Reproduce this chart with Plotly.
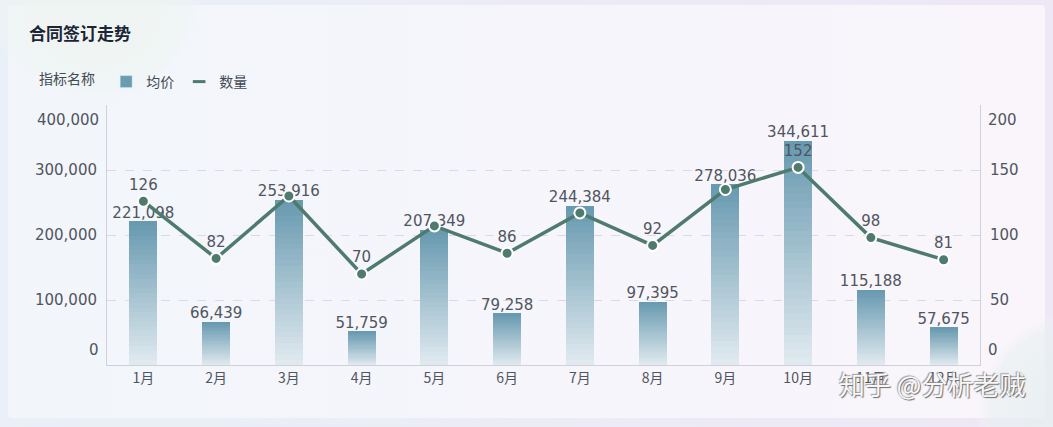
import base64
import plotly.graph_objects as go

months = ["1月", "2月", "3月", "4月", "5月", "6月", "7月", "8月", "9月", "10月", "11月", "12月"]
avg_price = [221098, 66439, 253916, 51759, 207349, 79258, 244384, 97395, 278036, 344611, 115188, 57675]
quantity = [126, 82, 130, 70, 107, 86, 117, 92, 135, 152, 98, 81]
# labels of the line that the reference leaves hidden (overlapping bar labels)
quantity_label_shown = [True, True, False, True, False, True, False, True, False, True, True, True]
left_ticks = [0, 100000, 200000, 300000, 400000]
right_ticks = [0, 50, 100, 150, 200]

W, H = 1053, 427
L, R, T, B = 107, 980, 105, 365
PW, PH = R - L, B - T
FONT = "Noto Sans CJK SC, Noto Sans, sans-serif"
NUMFONT = "DejaVu Sans, Noto Sans CJK SC, sans-serif"
TXT = "#50555e"


def px(x):
    return (x - L) / PW


def py(y):
    return (B - y) / PH


def lerp(c1, c2, t):
    return "#%02x%02x%02x" % tuple(round(a + (b - a) * t) for a, b in zip(c1, c2))


TOP = (0x68, 0x9a, 0xb0)
BOT = (0xdf, 0xe9, 0xef)
N = 30

fig = go.Figure()

# gradient bars as stacked slices (bottom slice lightest)
for i in range(N):
    t = i / (N - 1)
    fig.add_trace(go.Bar(
        x=months, y=[v / N for v in avg_price],
        marker=dict(color=lerp(BOT, TOP, t), line=dict(width=0)),
        width=0.385, showlegend=False, hoverinfo="skip", yaxis="y",
    ))

# bar value labels
fig.add_trace(go.Scatter(
    x=months, y=avg_price, mode="text", text=[f"{v:,}" for v in avg_price],
    textposition="top center", textfont=dict(size=15, color=TXT, family=NUMFONT),
    showlegend=False, hoverinfo="skip", cliponaxis=False, yaxis="y",
))

# line
fig.add_trace(go.Scatter(
    x=months, y=quantity, mode="lines+markers+text", yaxis="y2",
    text=[str(v) if s else "" for v, s in zip(quantity, quantity_label_shown)],
    textposition="top center",
    textfont=dict(size=15, color=TXT, family=NUMFONT),
    line=dict(color="#4f7b6f", width=3.5),
    marker=dict(size=11, color="#4f7b6f", line=dict(color="white", width=2)),
    showlegend=False, cliponaxis=False,
))

# legend-only entries
fig.add_trace(go.Bar(x=[None], y=[None], name="均价", marker=dict(color="#6a9db2"),
                     yaxis="y", legendrank=1))
fig.add_trace(go.Scatter(x=[None], y=[None], name="数量", mode="markers",
                         marker=dict(symbol="line-ew", size=9, color="#4f7b6f",
                                     line=dict(color="#4f7b6f", width=3)),
                         yaxis="y2", legendrank=2))

svg = f'''<svg xmlns="http://www.w3.org/2000/svg" width="{W}" height="{H}" viewBox="0 0 {W} {H}">
<defs>
<linearGradient id="o" x1="0" y1="0" x2="1" y2="0">
<stop offset="0" stop-color="#e9f0f8"/><stop offset="1" stop-color="#eee7f5"/></linearGradient>
<linearGradient id="c" x1="0" y1="0" x2="1" y2="0">
<stop offset="0" stop-color="#f2f6fb"/><stop offset="1" stop-color="#f9f5fb"/></linearGradient>
<radialGradient id="g1"><stop offset="0" stop-color="#eef4ef" stop-opacity="0.9"/>
<stop offset="0.85" stop-color="#eef4f1" stop-opacity="0.6"/><stop offset="1" stop-color="#f2f6fb" stop-opacity="0"/></radialGradient>
<radialGradient id="g2"><stop offset="0" stop-color="#e4eef0" stop-opacity="0.9"/>
<stop offset="0.85" stop-color="#e8f0f1" stop-opacity="0.6"/><stop offset="1" stop-color="#f9f5fb" stop-opacity="0"/></radialGradient>
</defs>
<rect width="{W}" height="{H}" fill="url(#o)"/>
<rect x="8" y="5" width="1037" height="413" rx="4" fill="url(#c)"/>
<circle cx="95" cy="-5" r="110" fill="url(#g1)"/>
<circle cx="1075" cy="410" r="100" fill="url(#g2)"/>
</svg>'''
src = "data:image/svg+xml;base64," + base64.b64encode(svg.encode()).decode()

annotations = [
    dict(text="<b>合同签订走势</b>", x=px(27), y=py(32), xref="paper", yref="paper",
         xanchor="left", yanchor="middle", showarrow=False,
         font=dict(size=17, color="#1b2535", family=FONT)),
    dict(text="知乎 @分析老贼", x=px(1027), y=py(383), xref="paper", yref="paper",
         xanchor="right", yanchor="middle", showarrow=False,
         font=dict(size=26, color="rgba(255,255,255,0.95)", family=FONT,
                   shadow="1px 1px 1px #666, -1px -1px 1px #999")),
]
# end labels of the value axes sit inside the axis range
for val, shift in ((left_ticks[0], 15), (left_ticks[-1], -15)):
    annotations.append(dict(text=f"{val:,}", x=px(101), y=val, xref="paper", yref="y",
                            xanchor="right", yanchor="middle", yshift=shift, showarrow=False,
                            font=dict(size=15, color=TXT, family=NUMFONT)))
for val, shift in ((right_ticks[0], 15), (right_ticks[-1], -15)):
    annotations.append(dict(text=f"{val:,}", x=px(986), y=val, xref="paper", yref="y2",
                            xanchor="left", yanchor="middle", yshift=shift, showarrow=False,
                            font=dict(size=15, color=TXT, family=NUMFONT)))

fig.update_layout(
    width=W, height=H,
    margin=dict(l=L, r=W - R, t=T, b=H - B, pad=0),
    paper_bgcolor="#efeaf6", plot_bgcolor="rgba(0,0,0,0)",
    barmode="stack", bargap=0.0,
    font=dict(family=FONT, size=14, color=TXT),
    images=[dict(source=src, xref="paper", yref="paper", x=px(0), y=py(0),
                 sizex=W / PW, sizey=H / PH, xanchor="left", yanchor="top",
                 sizing="stretch", layer="below")],
    annotations=annotations,
    legend=dict(orientation="h", x=px(37), y=py(82), xanchor="left", yanchor="middle",
                title=dict(text="指标名称 ", font=dict(size=14, color="#444a55")),
                font=dict(size=14, color="#444a55", family=FONT),
                bgcolor="rgba(0,0,0,0)", itemwidth=30, tracegroupgap=0,
                traceorder="normal"),
    xaxis=dict(range=[-0.5, 11.5], type="category", showline=True, linecolor="#cfd0d8",
               linewidth=1, ticks="", tickfont=dict(size=14, color=TXT), showgrid=False),
    yaxis=dict(range=[0, 400000], tickvals=left_ticks,
               ticktext=["", "100,000", "200,000", "300,000", ""],
               showline=True, linecolor="#cfd0d8", showgrid=True, gridcolor="#d9dae3",
               griddash="dash", gridwidth=1, zeroline=False, ticks="", ticklabelstandoff=6,
               tickfont=dict(size=15, color=TXT, family=NUMFONT)),
    yaxis2=dict(range=[0, 200], tickvals=right_ticks, ticktext=["", "50", "100", "150", ""],
                overlaying="y", side="right", showline=True, linecolor="#cfd0d8",
                showgrid=False, zeroline=False, ticks="", ticklabelstandoff=6,
                tickfont=dict(size=15, color=TXT, family=NUMFONT)),
)

fig.write_html("out.html")
